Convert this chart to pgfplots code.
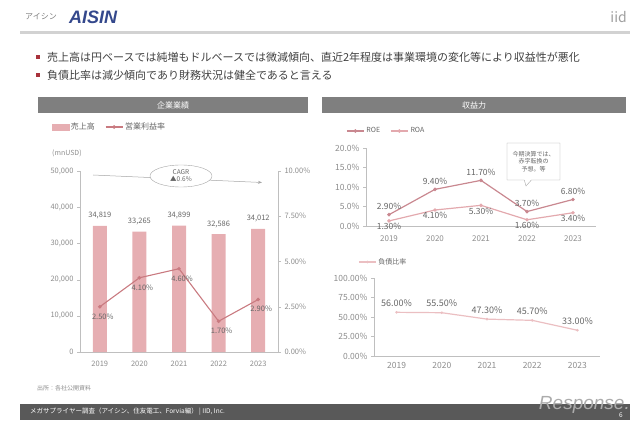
\documentclass[border=0pt]{standalone}
\usepackage{pgfplots}
\pgfplotsset{compat=1.18}
\usepackage{fontspec}
\setmainfont{Noto Sans CJK JP}
\newfontfamily\logofont{Liberation Sans}
\usetikzlibrary{shapes.geometric,shapes.callouts,arrows.meta}
\definecolor{barpink}{HTML}{E6AEB2}
\definecolor{oplin}{HTML}{C97A80}
\definecolor{roecol}{HTML}{C98890}
\definecolor{roacol}{HTML}{E3A9AE}
\definecolor{debtcol}{HTML}{EBBFC2}
\definecolor{tickgray}{HTML}{8C8C8C}
\definecolor{lblgray}{HTML}{666666}
\definecolor{axgray}{HTML}{BFBFBF}
\definecolor{hdrgray}{HTML}{7F7F7F}
\definecolor{footgray}{HTML}{595959}
\definecolor{aisinblue}{HTML}{34488C}
\definecolor{bulletred}{HTML}{A8323C}
\definecolor{txtgray}{HTML}{404040}
\pgfplotsset{
  base/.style={
    scale only axis,
    anchor=south west,
    /pgf/number format/assume math mode=true,
    xmin=-0.5, xmax=4.5,
    xtick={0,1,2,3,4},
    xticklabels={2019,2020,2021,2022,2023},
    axis line style={axgray},
    tick style={axgray},
    tick align=outside,
    major tick length=3pt,
    xtick style={draw=none},
    ticklabel style={text=tickgray},
  }
}
\begin{document}
\begin{tikzpicture}[x=1pt,y=1pt]
\useasboundingbox (0,0) rectangle (640,426);
% header
\node[anchor=west,text=gray,font=\fontsize{8}{9}\selectfont,inner sep=0] at (25,409) {アイシン};
\node[anchor=west,text=aisinblue,font=\logofont\bfseries\itshape\fontsize{18}{18}\selectfont,inner sep=0] at (69,409) {AISIN};
\node[anchor=east,text=gray!75,font=\fontsize{14}{14}\selectfont,inner sep=0] at (627,409) {iid};
\fill[gray!35] (20,392) rectangle (630,394.5);
% bullets
\fill[bulletred] (36,367) rectangle (40,371);
\fill[bulletred] (36,349) rectangle (40,353);
\node[anchor=west,text=txtgray,font=\fontsize{11}{12}\selectfont,inner sep=0] at (47,369) {売上高は円ベースでは純増もドルベースでは微減傾向、直近2年程度は事業環境の変化等により収益性が悪化};
\node[anchor=west,text=txtgray,font=\fontsize{11}{12}\selectfont,inner sep=0] at (47,351) {負債比率は減少傾向であり財務状況は健全であると言える};
% panel headers
\fill[hdrgray] (38,313) rectangle (308,329);
\fill[hdrgray] (322,313) rectangle (626,329);
\node[text=white,font=\fontsize{8}{9}\selectfont] at (173,321) {企業業績};
\node[text=white,font=\fontsize{8}{9}\selectfont] at (474,321) {収益力};
% unit and source
\node[anchor=west,text=tickgray,font=\fontsize{7}{8}\selectfont,inner sep=0] at (52,273) {(mnUSD)};
\node[anchor=west,text=tickgray,font=\fontsize{6}{7}\selectfont,inner sep=0] at (37,38) {出所：各社公開資料};
% footer
\fill[footgray] (20,6) rectangle (630,22);
\node[anchor=west,text=white,font=\fontsize{6.5}{7}\selectfont,inner sep=0] at (30,14) {メガサプライヤー調査（アイシン、住友電工、Forvia編） | IID, Inc.};
\node[text=white,font=\fontsize{6.5}{7}\selectfont,inner sep=0] at (621,11) {6};

% ---- left chart: sales bars
\begin{axis}[base,
  at={(80pt,74pt)}, width=198pt, height=181pt,
  ymin=0, ymax=50000,
  ytick={0,10000,20000,30000,40000,50000},
  axis y line*=left, axis x line*=bottom,
  scaled y ticks=false,
  yticklabel style={/pgf/number format/.cd,1000 sep={,}},
  ticklabel style={font=\fontsize{7.5}{8}\selectfont},
  xticklabel style={yshift=-3pt},
]
\addplot[ybar, bar width=14pt, fill=barpink, draw=none,
  nodes near coords={\pgfmathprintnumber[1000 sep={,}]{\pgfplotspointmeta}},
  every node near coord/.append style={text=lblgray,font=\fontsize{7.5}{8}\selectfont,yshift=3pt}]
  coordinates {(0,34819) (1,33265) (2,34899) (3,32586) (4,34012)};
\end{axis}
% ---- left chart: operating margin line
\begin{axis}[base,
  at={(80pt,74pt)}, width=198pt, height=181pt,
  ymin=0, ymax=10,
  ytick={0,2.5,5,7.5,10},
  axis y line*=right, axis x line=none,
  yticklabel={\pgfmathprintnumber[fixed,fixed zerofill,precision=2]{\tick}\%},
  ticklabel style={font=\fontsize{7.5}{8}\selectfont},
  legend style={at={(-0.16,1.243)},anchor=west,draw=none,fill=none,
    font=\fontsize{8}{9}\selectfont,text=lblgray,
    /tikz/every even column/.append style={column sep=8pt}},
  legend columns=2,
]
\addlegendimage{area legend, fill=barpink, draw=barpink}
\addlegendentry{売上高}
\addplot[oplin, line width=1.1pt, mark=*, mark size=1.2pt,
  nodes near coords={\pgfmathprintnumber[fixed,fixed zerofill,precision=2]{\pgfplotspointmeta}\%},
  every node near coord/.append style={anchor=north,text=lblgray,font=\fontsize{7.5}{8}\selectfont,yshift=-3pt,xshift=3pt}]
  coordinates {(0,2.5) (1,4.1) (2,4.6) (3,1.7) (4,2.9)};
\addlegendentry{営業利益率}
\end{axis}
% CAGR annotation
\draw[gray!70, line width=0.5pt, -{Stealth[length=4pt,width=3pt]}] (93,251) -- (262,243.5);
\node[ellipse, draw=gray!70, fill=white, align=center, inner sep=0.5pt, minimum width=62pt, minimum height=22pt,
  text=lblgray, font=\fontsize{6.5}{7}\selectfont] at (181,250) {CAGR\\▲0.6\%};

% ---- right top: ROE/ROA
\begin{axis}[base,
  at={(366pt,200pt)}, width=230pt, height=78pt,
  ymin=0, ymax=20,
  ytick={0,5,10,15,20},
  axis y line*=left, axis x line*=bottom,
  yticklabel={\pgfmathprintnumber[fixed,fixed zerofill,precision=1]{\tick}\%},
  ticklabel style={font=\fontsize{8.5}{9}\selectfont},
  xticklabel style={yshift=-3pt,font=\fontsize{8}{9}\selectfont},
  legend style={at={(-0.1,1.218)},anchor=west,draw=none,fill=none,
    font=\fontsize{7}{8}\selectfont,text=lblgray,
    /tikz/every even column/.append style={column sep=8pt}},
  legend columns=2,
  clip=false,
]
\addplot[roecol, line width=1.2pt, mark=*, mark size=1.1pt,
  nodes near coords={\pgfmathprintnumber[fixed,fixed zerofill,precision=2]{\pgfplotspointmeta}\%},
  every node near coord/.append style={anchor=south,text=lblgray,font=\fontsize{8.5}{9}\selectfont,yshift=1pt}]
  coordinates {(0,2.9) (1,9.4) (2,11.7) (3,3.7) (4,6.8)};
\addlegendentry{ROE}
\addplot[roacol, line width=1.2pt, mark=*, mark size=1.1pt,
  nodes near coords={\pgfmathprintnumber[fixed,fixed zerofill,precision=2]{\pgfplotspointmeta}\%},
  every node near coord/.append style={anchor=north,text=lblgray,font=\fontsize{8.5}{9}\selectfont,inner sep=1pt,yshift=-1pt}]
  coordinates {(0,1.3) (1,4.1) (2,5.3) (3,1.6) (4,3.4)};
\addlegendentry{ROA}
\end{axis}
% callout
\node[rectangle callout, draw=gray!70, fill=white, align=center, inner sep=2pt,
  minimum width=53pt, minimum height=37pt, text=lblgray, font=\fontsize{6}{7.5}\selectfont,
  callout absolute pointer={(526,240)}] at (533.5,264.5) {今期決算では、\\赤字転換の\\予想。等};

% ---- right bottom: debt ratio
\begin{axis}[base,
  at={(374pt,70pt)}, width=226pt, height=78pt,
  ymin=0, ymax=100,
  ytick={0,25,50,75,100},
  axis y line*=left, axis x line*=bottom,
  yticklabel={\pgfmathprintnumber[fixed,fixed zerofill,precision=2]{\tick}\%},
  ticklabel style={font=\fontsize{8.5}{9}\selectfont},
  legend style={at={(-0.084,1.205)},anchor=west,draw=none,fill=none,
    font=\fontsize{7}{8}\selectfont,text=lblgray},
  clip=false,
]
\addplot[debtcol, line width=1.2pt, mark=*, mark size=0.6pt,
  nodes near coords={\pgfmathprintnumber[fixed,fixed zerofill,precision=2]{\pgfplotspointmeta}\%},
  every node near coord/.append style={anchor=south,text=lblgray,font=\fontsize{9}{9}\selectfont,yshift=2pt}]
  coordinates {(0,56.0) (1,55.5) (2,47.3) (3,45.7) (4,33.0)};
\addlegendentry{負債比率}
\end{axis}
% watermark
\node[anchor=base east,text=gray!65,font=\logofont\itshape\fontsize{19}{19}\selectfont,inner sep=0] at (630,17) {Response.};
\end{tikzpicture}
\end{document}
